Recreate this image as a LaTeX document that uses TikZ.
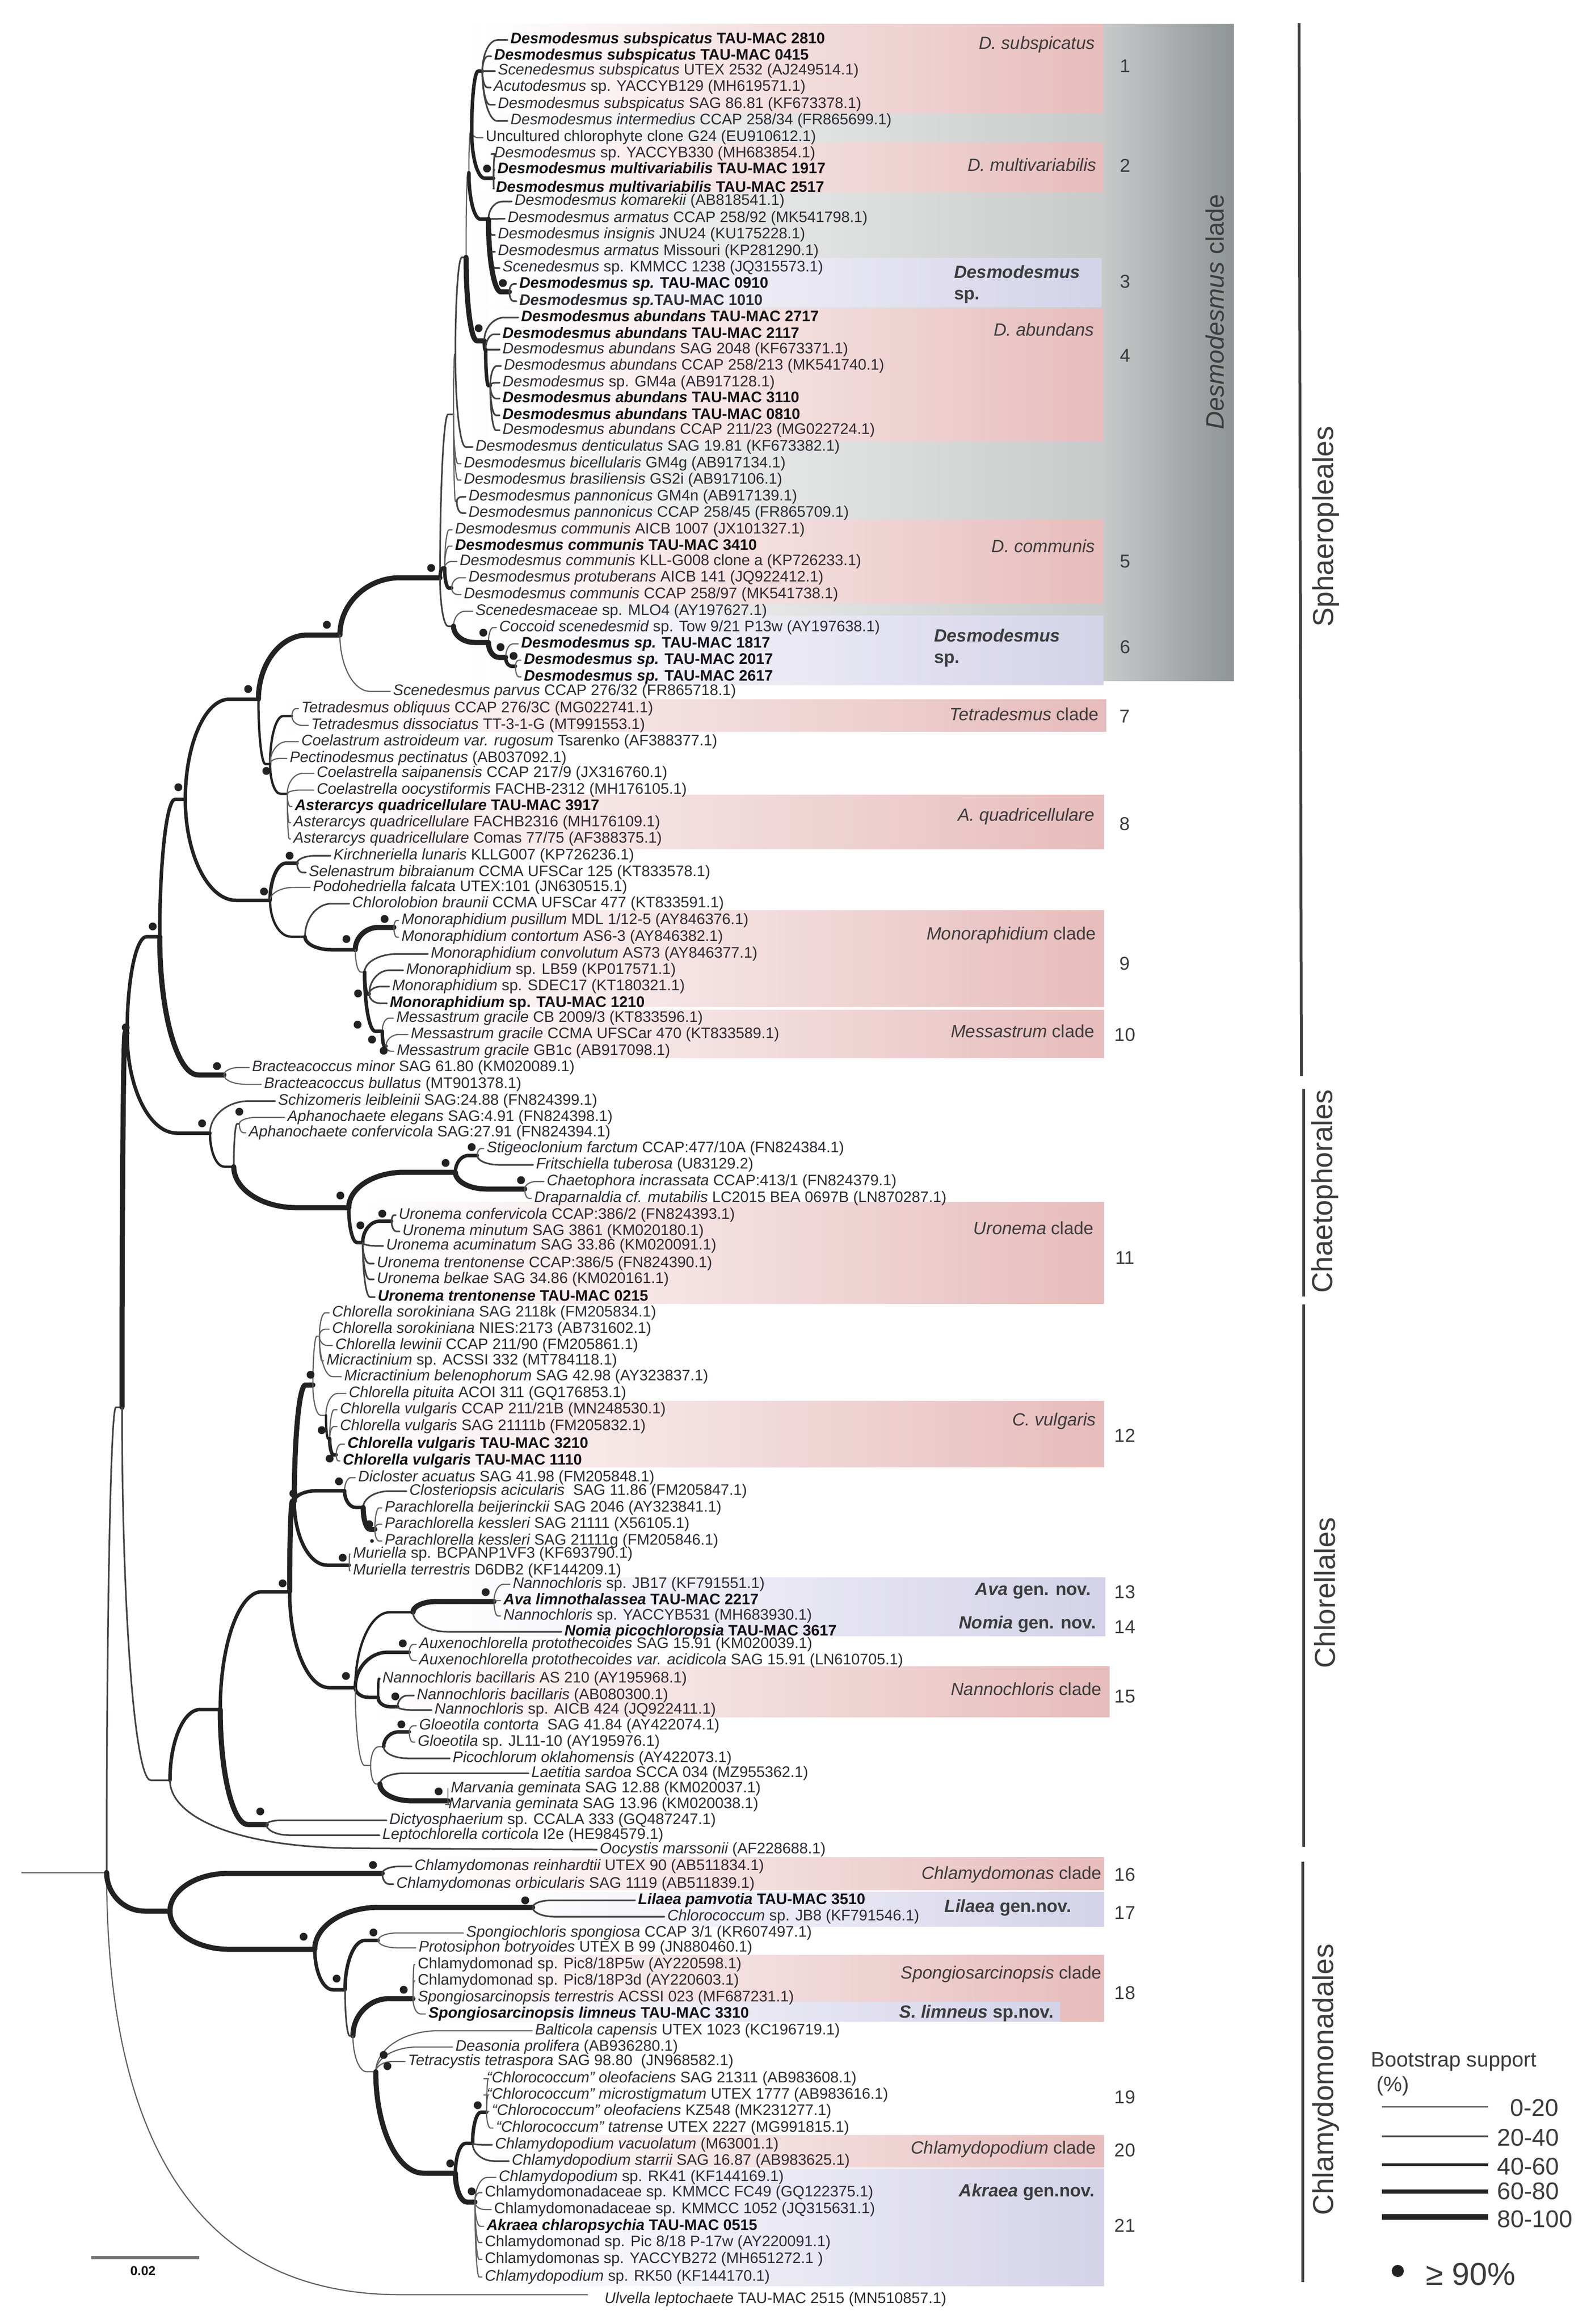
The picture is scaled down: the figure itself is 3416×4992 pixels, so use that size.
\documentclass[tikz,border=0pt]{standalone}
\usepackage{fontspec}
\setmainfont{Liberation Sans}
\usetikzlibrary{calc}
\definecolor{redb}{HTML}{E7BCBC}
\definecolor{purb}{HTML}{D4D2E8}
\definecolor{greyb}{HTML}{C8CACA}
\definecolor{greyc}{HTML}{8F9495}
\definecolor{ink}{HTML}{2E2B33}
\definecolor{inkc}{HTML}{3C3C3C}
\definecolor{inkb}{HTML}{141216}
\definecolor{tree}{HTML}{222222}
\tikzset{
 lbl/.style={anchor=west,inner xsep=3pt,inner ysep=0pt,xshift=-3pt,text height=11.5pt,text depth=3.5pt,text=ink,font=\fontsize{16.4}{18}\selectfont},
 cladelbl/.style={anchor=east,inner sep=0pt,text=inkc,font=\fontsize{19}{22}\selectfont},
 numlbl/.style={anchor=center,inner sep=0pt,text=inkc,font=\fontsize{20}{22}\selectfont},
 orderlbl/.style={anchor=center,rotate=90,inner sep=0pt,text=inkc,font=\fontsize{31}{34}\selectfont},
 legendlbl/.style={anchor=west,inner sep=0pt,text=inkc,font=\fontsize{26}{28}\selectfont},
 dotn/.style={circle,fill=tree,draw=none,inner sep=0pt,minimum size=8.5pt},
 w1/.style={line width=1.25pt,draw=black!62,line cap=round},
 w2/.style={line width=1.75pt,draw=tree!85,line cap=round},
 w3/.style={line width=2.5pt,draw=tree,line cap=round},
 w4/.style={line width=3.75pt,draw=tree,line cap=round},
 w5/.style={line width=5.5pt,draw=tree,line cap=round},
 cv/.style={to path={let \p1=(\tikztostart),\p2=(\tikztotarget) in
   \pgfextra{\pgfmathsetlengthmacro\nnl{min(0.6*abs(\x2-\x1),1.3*abs(\y2-\y1)+10pt)}\global\let\nnx\nnl}
   .. controls (\x1,{\y1+0.55*(\y2-\y1)}) and ({\x1+0.45*\nnx},\y2) .. ({\x1+\nnx},\y2) -- (\tikztotarget)}},
}
\newcommand{\rband}[4]{\shade[left color=white,right color=redb] (#1,#2) rectangle (#3,#4);}
\newcommand{\pband}[4]{\shade[left color=white,right color=purb] (#1,#2) rectangle (#3,#4);}
\newcommand{\co}[3]{\coordinate (#1) at (#2,#3);}
\newcommand{\leaft}[4]{\node[lbl] (#1) at (#2,#3) {#4};}
\newcommand{\leafr}[5]{\node[lbl] (#1) at (#2,#3) {{\itshape #4} #5};}
\newcommand{\leafb}[5]{\node[lbl,text=inkb] (#1) at (#2,#3) {{\bfseries\itshape #4} {\bfseries #5}};}
\newcommand{\ed}[3]{\draw[#1] (#2) to[cv] (#3);}
\newcommand{\ls}[3]{\foreach \cc in {#3} {\draw[#1] (#2) to[cv] (\cc.west);}}
\newcommand{\cla}[4]{\node[cladelbl] (#1) at (#2,#3) {#4};}
\newcommand{\numb}[3]{\node[numlbl] (n#1) at (#2,#3) {#1};}
\begin{document}
\begin{tikzpicture}[x=0.5pt,y=-0.5pt]
\useasboundingbox (0,0) rectangle (3416,4992);
% ---- bands
\shade[left color=white,right color=greyb] (1000,52) rectangle (2372,1462);
\shade[left color=greyb,right color=greyc] (2370,52) rectangle (2650,1462);
\rband{1030}{52}{2370}{244}
\rband{1030}{307}{2370}{413}
\pband{1050}{555}{2366}{660}
\rband{1050}{664}{2370}{947}
\rband{960}{1116}{2370}{1296}
\pband{1040}{1322}{2370}{1471}
\rband{600}{1502}{2376}{1571}
\rband{600}{1707}{2371}{1823}
\rband{830}{1955}{2371}{2162}
\rband{830}{2169}{2371}{2272}
\rband{780}{2582}{2371}{2800}
\rband{710}{3009}{2371}{3151}
\pband{930}{3388}{2374}{3514}
\rband{800}{3579}{2383}{3688}
\rband{880}{3989}{2371}{4059}
\pband{1080}{4064}{2371}{4138}
\rband{880}{4199}{2371}{4342}
\pband{920}{4300}{2277}{4342}
\rband{1040}{4586}{2371}{4655}
\pband{1030}{4658}{2371}{4910}
% ---- leaves
\leafb{a1}{1096}{86}{Desmodesmus subspicatus}{TAU-MAC 2810}
\leafb{a2}{1061}{121}{Desmodesmus subspicatus}{TAU-MAC 0415}
\leafr{a3}{1069}{153}{Scenedesmus subspicatus}{UTEX 2532 (AJ249514.1)}
\leafr{a4}{1060}{188}{Acutodesmus}{sp. YACCYB129 (MH619571.1)}
\leafr{a5}{1069}{225}{Desmodesmus subspicatus}{SAG 86.81 (KF673378.1)}
\leafr{a6}{1096}{260}{Desmodesmus intermedius}{CCAP 258/34 (FR865699.1)}
\leaft{a7}{1043}{296}{Uncultured chlorophyte clone G24 (EU910612.1)}
\leafr{a8}{1061}{331}{Desmodesmus}{sp. YACCYB330 (MH683854.1)}
\leafb{a9}{1068}{365}{Desmodesmus multivariabilis}{TAU-MAC 1917}
\leafb{a10}{1065}{405}{Desmodesmus multivariabilis}{TAU-MAC 2517}
\leafr{a11}{1105}{433}{Desmodesmus komarekii}{(AB818541.1)}
\leafr{a12}{1090}{470}{Desmodesmus armatus}{CCAP 258/92 (MK541798.1)}
\leafr{a13}{1069}{505}{Desmodesmus insignis}{JNU24 (KU175228.1)}
\leafr{a14}{1069}{541}{Desmodesmus armatus}{Missouri (KP281290.1)}
\leafr{a15}{1079}{576}{Scenedesmus}{sp. KMMCC 1238 (JQ315573.1)}
\leafb{a16}{1115}{610}{Desmodesmus sp.}{TAU-MAC 0910}
\leaft{a17}{1115}{647}{{\bfseries\itshape Desmodesmus sp.}{\bfseries TAU-MAC 1010}}
\leafb{a18}{1119}{682}{Desmodesmus abundans}{TAU-MAC 2717}
\leafb{a19}{1079}{718}{Desmodesmus abundans}{TAU-MAC 2117}
\leafr{a20}{1079}{751}{Desmodesmus abundans}{SAG 2048 (KF673371.1)}
\leafr{a21}{1082}{786}{Desmodesmus abundans}{CCAP 258/213 (MK541740.1)}
\leafr{a22}{1079}{822}{Desmodesmus}{sp. GM4a (AB917128.1)}
\leafb{a23}{1079}{856}{Desmodesmus abundans}{TAU-MAC 3110}
\leafb{a24}{1079}{892}{Desmodesmus abundans}{TAU-MAC 0810}
\leafr{a25}{1079}{924}{Desmodesmus abundans}{CCAP 211/23 (MG022724.1)}
\leafr{a26}{1021}{960}{Desmodesmus denticulatus}{SAG 19.81 (KF673382.1)}
\leafr{a27}{996}{996}{Desmodesmus bicellularis}{GM4g (AB917134.1)}
\leafr{a28}{996}{1031}{Desmodesmus brasiliensis}{GS2i (AB917106.1)}
\leafr{a29}{1006}{1067}{Desmodesmus pannonicus}{GM4n (AB917139.1)}
\leafr{a30}{1006}{1102}{Desmodesmus pannonicus}{CCAP 258/45 (FR865709.1)}
\leafr{a31}{977}{1138}{Desmodesmus communis}{AICB 1007 (JX101327.1)}
\leafb{a32}{977}{1173}{Desmodesmus communis}{TAU-MAC 3410}
\leafr{a33}{987}{1206}{Desmodesmus communis}{KLL-G008 clone a (KP726233.1)}
\leafr{a34}{1006}{1241}{Desmodesmus protuberans}{AICB 141 (JQ922412.1)}
\leafr{a35}{996}{1277}{Desmodesmus communis}{CCAP 258/97 (MK541738.1)}
\leafr{a36}{1021}{1313}{Scenedesmaceae}{sp. MLO4 (AY197627.1)}
\leafr{a37}{1072}{1348}{Coccoid scenedesmid}{sp. Tow 9/21 P13w (AY197638.1)}
\leafb{a38}{1119}{1383}{Desmodesmus sp.}{TAU-MAC 1817}
\leafb{a39}{1125}{1418}{Desmodesmus sp.}{TAU-MAC 2017}
\leafb{a40}{1125}{1454}{Desmodesmus sp.}{TAU-MAC 2617}
\leafr{a41}{844}{1485}{Scenedesmus parvus}{CCAP 276/32 (FR865718.1)}
\leafr{b1}{647}{1522}{Tetradesmus obliquus}{CCAP 276/3C (MG022741.1)}
\leafr{b2}{668}{1558}{Tetradesmus dissociatus}{TT-3-1-G (MT991553.1)}
\leafr{b3}{647}{1593}{Coelastrum astroideum var. rugosum}{Tsarenko (AF388377.1)}
\leafr{b4}{622}{1629}{Pectinodesmus pectinatus}{(AB037092.1)}
\leafr{b5}{680}{1661}{Coelastrella saipanensis}{CCAP 217/9 (JX316760.1)}
\leafr{b6}{680}{1697}{Coelastrella oocystiformis}{FACHB-2312 (MH176105.1)}
\leafb{b7}{633}{1732}{Asterarcys quadricellulare}{TAU-MAC 3917}
\leafr{b8}{630}{1767}{Asterarcys quadricellulare}{FACHB2316 (MH176109.1)}
\leafr{b9}{630}{1802}{Asterarcys quadricellulare}{Comas 77/75 (AF388375.1)}
\leafr{b10}{716}{1838}{Kirchneriella lunaris}{KLLG007 (KP726236.1)}
\leafr{b11}{663}{1874}{Selenastrum bibraianum}{CCMA UFSCar 125 (KT833578.1)}
\leafr{b12}{672}{1906}{Podohedriella falcata}{UTEX:101 (JN630515.1)}
\leafr{b13}{756}{1941}{Chlorolobion braunii}{CCMA UFSCar 477 (KT833591.1)}
\leafr{b14}{862}{1977}{Monoraphidium pusillum}{MDL 1/12-5 (AY846376.1)}
\leafr{b15}{862}{2013}{Monoraphidium contortum}{AS6-3 (AY846382.1)}
\leafr{b16}{925}{2049}{Monoraphidium convolutum}{AS73 (AY846377.1)}
\leafr{b17}{872}{2084}{Monoraphidium}{sp. LB59 (KP017571.1)}
\leafr{b18}{842}{2119}{Monoraphidium}{sp. SDEC17 (KT180321.1)}
\leafb{b19}{837}{2155}{Monoraphidium}{sp. TAU-MAC 1210}
\leafr{b20}{851}{2187}{Messastrum gracile}{CB 2009/3 (KT833596.1)}
\leafr{b21}{882}{2222}{Messastrum gracile}{CCMA UFSCar 470 (KT833589.1)}
\leafr{b22}{852}{2258}{Messastrum gracile}{GB1c (AB917098.1)}
\leafr{b23}{541}{2293}{Bracteacoccus minor}{SAG 61.80 (KM020089.1)}
\leafr{b24}{567}{2329}{Bracteacoccus bullatus}{(MT901378.1)}
\leafr{c1}{597}{2365}{Schizomeris leibleinii}{SAG:24.88 (FN824399.1)}
\leafr{c2}{617}{2400}{Aphanochaete elegans}{SAG:4.91 (FN824398.1)}
\leafr{c3}{534}{2433}{Aphanochaete confervicola}{SAG:27.91 (FN824394.1)}
\leafr{c4}{1045}{2467}{Stigeoclonium farctum}{CCAP:477/10A (FN824384.1)}
\leafr{c5}{1151}{2502}{Fritschiella tuberosa}{(U83129.2)}
\leafr{c6}{1174}{2538}{Chaetophora incrassata}{CCAP:413/1 (FN824379.1)}
\leafr{c7}{1147}{2574}{Draparnaldia cf. mutabilis}{LC2015 BEA 0697B (LN870287.1)}
\leafr{c8}{856}{2610}{Uronema confervicola}{CCAP:386/2 (FN824393.1)}
\leafr{c9}{864}{2645}{Uronema minutum}{SAG 3861 (KM020180.1)}
\leafr{c10}{829}{2676}{Uronema acuminatum}{SAG 33.86 (KM020091.1)}
\leafr{c11}{809}{2714}{Uronema trentonense}{CCAP:386/5 (FN824390.1)}
\leafr{c12}{809}{2748}{Uronema belkae}{SAG 34.86 (KM020161.1)}
\leafb{c13}{811}{2786}{Uronema trentonense}{TAU-MAC 0215}
\leafr{e1}{713}{2820}{Chlorella sorokiniana}{SAG 2118k (FM205834.1)}
\leafr{e2}{713}{2855}{Chlorella sorokiniana}{NIES:2173 (AB731602.1)}
\leafr{e3}{720}{2890}{Chlorella lewinii}{CCAP 211/90 (FM205861.1)}
\leafr{e4}{701}{2923}{Micractinium}{sp. ACSSI 332 (MT784118.1)}
\leafr{e5}{739}{2957}{Micractinium belenophorum}{SAG 42.98 (AY323837.1)}
\leafr{e6}{749}{2993}{Chlorella pituita}{ACOI 311 (GQ176853.1)}
\leafr{e7}{730}{3028}{Chlorella vulgaris}{CCAP 211/21B (MN248530.1)}
\leafr{e8}{730}{3064}{Chlorella vulgaris}{SAG 21111b (FM205832.1)}
\leafb{e9}{746}{3102}{Chlorella vulgaris}{TAU-MAC 3210}
\leafb{e10}{736}{3138}{Chlorella vulgaris}{TAU-MAC 1110}
\leafr{e11}{769}{3174}{Dicloster acuatus}{SAG 41.98 (FM205848.1)}
\leafr{e12}{879}{3203}{Closteriopsis acicularis}{\ SAG 11.86 (FM205847.1)}
\leafr{e13}{826}{3239}{Parachlorella beijerinckii}{SAG 2046 (AY323841.1)}
\leafr{e14}{826}{3274}{Parachlorella kessleri}{SAG 21111 (X56105.1)}
\leafr{e15}{826}{3310}{Parachlorella kessleri}{SAG 21111g (FM205846.1)}
\leafr{e16}{758}{3338}{Muriella}{sp. BCPANP1VF3 (KF693790.1)}
\leafr{e17}{758}{3374}{Muriella terrestris}{D6DB2 (KF144209.1)}
\leafr{f1}{1101}{3403}{Nannochloris}{sp. JB17 (KF791551.1)}
\leafb{f2}{1081}{3438}{Ava limnothalassea}{TAU-MAC 2217}
\leafr{f3}{1081}{3471}{Nannochloris}{sp. YACCYB531 (MH683930.1)}
\leafb{f4}{1212}{3505}{Nomia picochloropsia}{TAU-MAC 3617}
\leafr{f5}{900}{3532}{Auxenochlorella protothecoides}{SAG 15.91 (KM020039.1)}
\leafr{f6}{900}{3567}{Auxenochlorella protothecoides var. acidicola}{SAG 15.91 (LN610705.1)}
\leafr{f7}{821}{3606}{Nannochloris bacillaris}{AS 210 (AY195968.1)}
\leafr{f8}{895}{3642}{Nannochloris bacillaris}{(AB080300.1)}
\leafr{f9}{933}{3673}{Nannochloris}{sp. AICB 424 (JQ922411.1)}
\leafr{f10}{900}{3707}{Gloeotila contorta}{\ SAG 41.84 (AY422074.1)}
\leafr{f11}{897}{3742}{Gloeotila}{sp. JL11-10 (AY195976.1)}
\leafr{f12}{972}{3777}{Picochlorum oklahomensis}{(AY422073.1)}
\leafr{f13}{1141}{3809}{Laetitia sardoa}{SCCA 034 (MZ955362.1)}
\leafr{f14}{968}{3842}{Marvania geminata}{SAG 12.88 (KM020037.1)}
\leafr{f15}{963}{3876}{Marvania geminata}{SAG 13.96 (KM020038.1)}
\leafr{f16}{836}{3910}{Dictyosphaerium}{sp. CCALA 333 (GQ487247.1)}
\leafr{f17}{821}{3942}{Leptochlorella corticola}{I2e (HE984579.1)}
\leafr{f18}{1288}{3973}{Oocystis marssonii}{(AF228688.1)}
\leafr{g1}{890}{4009}{Chlamydomonas reinhardtii}{UTEX 90 (AB511834.1)}
\leafr{g2}{851}{4047}{Chlamydomonas orbicularis}{SAG 1119 (AB511839.1)}
\leafb{g3}{1370}{4082}{Lilaea pamvotia}{TAU-MAC 3510}
\leafr{g4}{1433}{4117}{Chlorococcum}{sp. JB8 (KF791546.1)}
\leafr{g5}{1001}{4152}{Spongiochloris spongiosa}{CCAP 3/1 (KR607497.1)}
\leafr{g6}{899}{4184}{Protosiphon botryoides}{UTEX B 99 (JN880460.1)}
\leaft{g7}{897}{4220}{Chlamydomonad sp. Pic8/18P5w (AY220598.1)}
\leaft{g8}{897}{4255}{Chlamydomonad sp. Pic8/18P3d (AY220603.1)}
\leafr{g9}{897}{4291}{Spongiosarcinopsis terrestris}{ACSSI 023 (MF687231.1)}
\leafb{g10}{920}{4326}{Spongiosarcinopsis limneus}{TAU-MAC 3310}
\leafr{g11}{1149}{4362}{Balticola capensis}{UTEX 1023 (KC196719.1)}
\leafr{g12}{978}{4397}{Deasonia prolifera}{(AB936280.1)}
\leafr{g13}{876}{4428}{Tetracystis tetraspora}{SAG 98.80 \ (JN968582.1)}
\leafr{g14}{1045}{4465}{“Chlorococcum” oleofaciens}{SAG 21311 (AB983608.1)}
\leafr{g15}{1045}{4500}{“Chlorococcum” microstigmatum}{UTEX 1777 (AB983616.1)}
\leafr{g16}{1056}{4535}{“Chlorococcum” oleofaciens}{KZ548 (MK231277.1)}
\leafr{g17}{1065}{4571}{“Chlorococcum” tatrense}{UTEX 2227 (MG991815.1)}
\leafr{g18}{1063}{4607}{Chlamydopodium vacuolatum}{(M63001.1)}
\leafr{g19}{1099}{4642}{Chlamydopodium starrii}{SAG 16.87 (AB983625.1)}
\leafr{g20}{1071}{4677}{Chlamydopodium}{sp. RK41 (KF144169.1)}
\leaft{g21}{1041}{4710}{Chlamydomonadaceae sp. KMMCC FC49 (GQ122375.1)}
\leaft{g22}{1061}{4746}{Chlamydomonadaceae sp. KMMCC 1052 (JQ315631.1)}
\leafb{g23}{1045}{4782}{Akraea chlaropsychia}{TAU-MAC 0515}
\leaft{g24}{1041}{4817}{Chlamydomonad sp. Pic 8/18 P-17w (AY220091.1)}
\leaft{g25}{1041}{4853}{Chlamydomonas sp. YACCYB272 (MH651272.1 )}
\leafr{g26}{1041}{4891}{Chlamydopodium}{sp. RK50 (KF144170.1)}
\leafr{g27}{1298}{4939}{Ulvella leptochaete}{TAU-MAC 2515 (MN510857.1)}
% ---- internal nodes
\co{Rs}{46}{4022}\co{R}{229}{4022}\co{C1}{262}{3023}\co{C2}{273}{2219}\co{C3}{365}{3824}
\co{D}{473}{3672}\co{E}{622}{3419}\co{F}{632}{3225}\co{G}{672}{2975}\co{Ga}{686}{2870}
\co{Gb}{700}{3040}\co{Gc}{708}{3090}\co{Gd}{722}{3125}\co{H}{740}{3202}\co{Hb}{780}{3238}
\co{Hc}{805}{3285}\co{Mu}{750}{3362}\co{N}{763}{3625}\co{Na}{887}{3463}\co{Nb}{1061}{3440}
\co{Nc}{879}{3549}\co{Nd}{812}{3646}\co{Ne}{854}{3666}\co{Nf}{796}{3792}\co{Ng}{824}{3752}
\co{Nh}{879}{3720}\co{Ni}{816}{3832}\co{Nj}{962}{3868}\co{Dy}{572}{3919}
\co{I}{343}{2012}\co{J}{451}{2434}\co{K}{398}{1717}\co{Br}{481}{2309}\co{L}{555}{1502}
\co{M}{580}{1934}\co{La}{730}{1364}\co{Lb}{580}{1641}\co{Des}{945}{1241}
\co{P}{974}{890}\co{Q}{955}{1220}\co{Qb}{970}{1263}\co{S}{974}{1345}\co{Sb}{1049}{1380}
\co{Sc}{1086}{1412}\co{Sd}{1107}{1431}\co{T}{978}{761}\co{U}{981}{1077}\co{V}{1001}{553}
\co{W}{1007}{371}\co{Wb}{1013}{282}\co{Wa}{1036}{153}\co{Y}{1060}{383}\co{Z}{1049}{471}
\co{Zb}{1094}{627}\co{X}{1040}{732}\co{Xb}{1043}{751}\co{Xc}{1053}{828}
\co{Te}{627}{1538}\co{Lc}{617}{1705}\co{Ma}{638}{1854}\co{Mb}{655}{2012}\co{Mc}{763}{2040}
\co{Md}{846}{1992}\co{Me}{783}{2088}\co{Mf}{793}{2135}\co{Mg}{821}{2215}\co{Mh}{829}{2247}
\co{Ja}{502}{2506}\co{Jb}{514}{2414}\co{Jc}{749}{2594}\co{Jd}{978}{2518}\co{Je}{779}{2669}
\co{Jf}{1025}{2482}\co{Jg}{1127}{2554}\co{Jh}{841}{2623}
\co{AA}{365}{4105}\co{BB}{821}{4024}\co{CC}{676}{4187}\co{DD}{1144}{4097}\co{EE}{741}{4274}
\co{FF}{812}{4168}\co{GG}{758}{4373}\co{HH}{887}{4293}\co{II}{807}{4450}\co{KK}{978}{4668}
\co{LL}{1015}{4604}\co{MM}{1045}{4537}\co{NN}{1020}{4730}\co{ulvmid}{860}{4929}\co{ulvtip}{1262}{4929}
% ---- connectors
\draw[line width=1.5pt,draw=black!55] (Rs) -- (R);
\draw[w1] (R) .. controls (229,4650) and (460,4929) .. (ulvmid) -- (ulvtip);
\ed{w2}{R}{C1}\ed{w5}{R}{AA}
\ed{w5}{C1}{C2}\ed{w2}{C1}{C3}
\ed{w4}{C3}{D}\draw[w2] (C3) .. controls (365,3900) and (500,3968) .. (760,3970) -- (f18.west);
\ed{w4}{D}{E}\ed{w5}{D}{Dy}\ls{w2}{Dy}{f16,f17}
\ed{w5}{E}{F}\ed{w4}{E}{N}
\ed{w5}{F}{G}\ed{w4}{F}{H}\ed{w4}{F}{Mu}
\ed{w1}{G}{Ga}\ls{w1}{Ga}{e1,e2,e3,e4,e5}
\ed{w1}{G}{Gb}\ls{w1}{Gb}{e6}\ed{w3}{Gb}{Gc}\ls{w1}{Gc}{e7,e8}\ed{w4}{Gc}{Gd}\ls{w1}{Gd}{e9,e10}
\ls{w1}{H}{e11}\ed{w4}{H}{Hb}\ls{w2}{Hb}{e12}\ed{w5}{Hb}{Hc}\ls{w1}{Hc}{e13,e14,e15}
\ls{w1}{Mu}{e16,e17}
\ed{w3}{N}{Na}\ed{w4}{N}{Nc}\ed{w4}{N}{Nd}\ed{w1}{N}{Nf}
\ed{w5}{Na}{Nb}\ls{w1}{Nb}{f1,f2,f3}\ls{w2}{Na}{f4}
\ls{w1}{Nc}{f5,f6}
\ls{w3}{Nd}{f7}\ed{w4}{Nd}{Ne}\ls{w2}{Ne}{f8,f9}
\ed{w1}{Nf}{Ng}\ed{w4}{Ng}{Nh}\ls{w1}{Nh}{f10,f11}\ls{w2}{Ng}{f12}
\ed{w1}{Nf}{Ni}\ls{w2}{Ni}{f13}\ed{w5}{Ni}{Nj}\ls{w1}{Nj}{f14,f15}
\ed{w4}{C2}{I}\ed{w4}{C2}{J}
\ed{w4}{I}{K}\ed{w5}{I}{Br}\ls{w1}{Br}{b23,b24}
\ed{w4}{K}{L}\ed{w4}{K}{M}
\ed{w5}{L}{La}\ed{w3}{L}{Lb}
\ed{w5}{La}{Des}\ls{w1}{La}{a41}
\ed{w2}{Des}{P}\ed{w4}{Des}{Q}\ed{w2}{Des}{S}
\ls{w1}{Q}{a31,a32,a33}\ed{w4}{Q}{Qb}\ls{w1}{Qb}{a34,a35}
\ls{w1}{S}{a36}\ed{w5}{S}{Sb}\ls{w1}{Sb}{a37}\ed{w5}{Sb}{Sc}\ls{w1}{Sc}{a38}\ed{w4}{Sc}{Sd}\ls{w1}{Sd}{a39,a40}
\ed{w1}{P}{T}\ls{w1}{P}{a27,a28}\ed{w1}{P}{U}\ls{w2}{U}{a29,a30}
\ed{w2}{T}{V}\ls{w2}{T}{a26}
\ed{w1}{V}{W}\ed{w5}{V}{X}
\ed{w1}{W}{Wb}\ed{w4}{W}{Z}
\ed{w4}{Wb}{Wa}\ls{w1}{Wb}{a7}\ed{w4}{Wb}{Y}
\ls{w2}{Wa}{a1,a2,a3,a4,a5,a6}
\ls{w2}{Y}{a8,a9,a10}
\ls{w2}{Z}{a11,a12,a13,a14,a15}\ed{w5}{Z}{Zb}\ls{w2}{Zb}{a16,a17}
\ls{w2}{X}{a18}\ed{w4}{X}{Xb}\ls{w2}{Xb}{a19,a20}\ed{w4}{Xb}{Xc}\ls{w2}{Xc}{a21,a22,a23,a24,a25}
\ed{w3}{Lb}{Te}\ls{w1}{Te}{b1,b2}\ls{w1}{Lb}{b3,b4}\ed{w3}{Lb}{Lc}\ls{w1}{Lc}{b5,b6,b7,b8,b9}
\ed{w4}{M}{Ma}\ls{w2}{Ma}{b10,b11}\ls{w1}{M}{b12}\ed{w3}{M}{Mb}
\ls{w2}{Mb}{b13}\ed{w4}{Mb}{Mc}
\ed{w5}{Mc}{Md}\ls{w1}{Md}{b14,b15}\ed{w1}{Mc}{Me}
\ls{w2}{Me}{b16}\ed{w4}{Me}{Mf}\ed{w4}{Me}{Mg}
\ls{w2}{Mf}{b17,b18,b19}
\ls{w1}{Mg}{b20}\ed{w4}{Mg}{Mh}\ls{w1}{Mh}{b21,b22}
\ls{w2}{J}{c1}\ed{w3}{J}{Ja}
\ed{w2}{Ja}{Jb}\ls{w1}{Jb}{c2,c3}\ed{w5}{Ja}{Jc}
\ed{w5}{Jc}{Jd}\ed{w4}{Jc}{Je}
\ed{w4}{Jd}{Jf}\ls{w1}{Jf}{c4}\ls{w2}{Jf}{c5}\ed{w5}{Jd}{Jg}\ls{w1}{Jg}{c6,c7}
\ed{w4}{Je}{Jh}\ls{w2}{Jh}{c8,c9}\ls{w2}{Je}{c10,c11,c12,c13}
\ed{w5}{AA}{BB}\ls{w2}{BB}{g1,g2}
\ed{w5}{AA}{CC}
\ed{w5}{CC}{DD}\ls{w2}{DD}{g3,g4}
\ed{w4}{CC}{EE}
\ed{w4}{EE}{FF}\ls{w1}{FF}{g5,g6}
\ed{w2}{EE}{GG}\ed{w5}{GG}{HH}\ls{w1}{HH}{g7,g8,g9,g10}
\ed{w1}{GG}{II}\ls{w1}{II}{g11,g12,g13}\ed{w5}{II}{KK}
\ed{w4}{KK}{LL}\ed{w5}{KK}{NN}
\ed{w4}{LL}{MM}\ls{w1}{MM}{g14,g15,g16,g17}\ls{w2}{LL}{g18,g19}
\ls{w1}{NN}{g20,g21,g22,g23,g24,g25,g26}
% ---- support dots
\foreach \dx/\dy [count=\k] in {1046/362,1080/608,1028/705,926/1220,702/1342,533/1480,1038/1359,1075/1390,1103/1409,
 572/1656,383/1691,622/1838,567/1915,826/1974,744/2017,328/1990,769/2134,768/2201,799/2233,824/2257,270/2207,466/2290,
 434/2413,514/2388,1013/2464,957/2498,1119/2535,731/2568,821/2607,774/2632,
 667/2953,691/3072,708/3133,728/3182,630/3208,793/3274,736/3346,607/3401,1043/3420,865/3530,743/3600,849/3644,862/3704,
 942/3848,559/3891,801/4006,1128/4082,652/4160,802/4151,723/4250,867/4274,824/4414,832/4438,1026/4522,967/4647,1013/4707}
 {\node[dotn] (dot\k) at (\dx,\dy) {};}
\node[circle,fill=tree,inner sep=0pt,minimum size=4pt] (dotsmall) at (799,3310) {};
% ---- clade labels
\cla{l1}{2352}{96}{\itshape D. subspicatus}
\cla{l2}{2355}{354}{\itshape D. multivariabilis}
\node[cladelbl,anchor=west,align=left,font=\fontsize{19}{23}\selectfont\bfseries] (l3) at (2049,611) {\textit{Desmodesmus}\\sp.};
\cla{l4}{2350}{708}{\itshape D. abundans}
\cla{l5}{2352}{1173}{\itshape D. communis}
\node[cladelbl,anchor=west,align=left,font=\fontsize{19}{23}\selectfont\bfseries] (l6) at (2006,1392) {\textit{Desmodesmus}\\sp.};
\cla{l7}{2360}{1534}{{\itshape Tetradesmus} clade}
\cla{l8}{2351}{1754}{\itshape A. quadricellulare}
\cla{l9}{2354}{2009}{{\itshape Monoraphidium} clade}
\cla{l10}{2351}{2215}{{\itshape Messastrum} clade}
\cla{l11}{2349}{2638}{{\itshape Uronema} clade}
\cla{l12}{2354}{3053}{\itshape C. vulgaris}
\node[cladelbl] (l13) at (2343,3417) {{\bfseries\itshape Ava} {\bfseries gen. nov.}};
\node[cladelbl] (l14) at (2354,3489) {{\bfseries\itshape Nomia} {\bfseries gen. nov.}};
\cla{l15}{2366}{3628}{{\itshape Nannochloris} clade}
\cla{l16}{2366}{4027}{{\itshape Chlamydomonas} clade}
\node[cladelbl] (l17) at (2301,4098) {{\bfseries\itshape Lilaea} {\bfseries gen.nov.}};
\cla{l18}{2366}{4241}{{\itshape Spongiosarcinopsis} clade}
\node[cladelbl] (l19) at (2263,4325) {{\bfseries\itshape S. limneus} {\bfseries sp.nov.}};
\cla{l20}{2354}{4617}{{\itshape Chlamydopodium} clade}
\node[cladelbl] (l21) at (2351,4709) {{\bfseries\itshape Akraea} {\bfseries gen.nov.}};
% ---- numbers
\numb{1}{2417}{142}\numb{2}{2417}{356}\numb{3}{2417}{605}\numb{4}{2417}{764}\numb{5}{2417}{1206}\numb{6}{2417}{1390}
\numb{7}{2416}{1539}\numb{8}{2416}{1770}\numb{9}{2416}{2070}\numb{10}{2416}{2223}\numb{11}{2416}{2702}\numb{12}{2416}{3083}
\numb{13}{2416}{3420}\numb{14}{2416}{3495}\numb{15}{2416}{3644}\numb{16}{2416}{4027}\numb{17}{2416}{4109}\numb{18}{2416}{4281}
\numb{19}{2416}{4505}\numb{20}{2416}{4619}\numb{21}{2416}{4780}
% ---- order bars and labels
\node[anchor=center,rotate=90,inner sep=0pt,text=inkc,font=\fontsize{27}{30}\selectfont] (dclade) at (2609,670) {{\itshape Desmodesmus} clade};
\co{oa1}{2790}{50}\co{oa2}{2795}{2311}\co{ob1}{2800}{2339}\co{ob2}{2800}{2785}\co{oc1}{2800}{2802}\co{oc2}{2800}{3967}\co{od1}{2798}{3999}\co{od2}{2798}{4902}
\foreach \oa/\ob in {oa1/oa2,ob1/ob2,oc1/oc2,od1/od2} {\draw[line width=3pt,draw=black!75] (\oa) -- (\ob);}
\node[orderlbl] (o1) at (2847,1131) {Sphaeropleales};
\node[orderlbl] (o2) at (2845,2559) {Chaetophorales};
\node[orderlbl] (o3) at (2845,3421) {Chlorellales};
\node[orderlbl] (o4) at (2847,4467) {Chlamydomonadales};
% ---- scale bar
\co{sa}{196}{4849}\co{sb}{428}{4849}
\draw[line width=3.5pt,draw=black!55] (sa) -- (sb);
\node[anchor=center,inner sep=0pt,text=inkb,font=\fontsize{14}{16}\selectfont\bfseries] (scale) at (307,4878) {0.02};
% ---- legend
\node[anchor=west,inner sep=0pt,text=inkc,font=\fontsize{22.5}{24}\selectfont] (lg0) at (2944,4429) {Bootstrap support};
\node[anchor=west,inner sep=0pt,text=inkc,font=\fontsize{22.5}{24}\selectfont] (lg00) at (2956,4481) {(\%)};
\co{la1}{2968}{4525}\co{lb1}{3196}{4525}\co{la2}{2968}{4589}\co{lb2}{3196}{4589}\co{la3}{2968}{4650}\co{lb3}{3196}{4650}
\co{la4}{2968}{4707}\co{lb4}{3196}{4707}\co{la5}{2968}{4762}\co{lb5}{3196}{4762}
\draw[line width=1.5pt,draw=black!60] (la1) -- (lb1);
\draw[line width=2pt,draw=black!75] (la2) -- (lb2);
\draw[line width=3pt,draw=tree] (la3) -- (lb3);
\draw[line width=4.5pt,draw=tree] (la4) -- (lb4);
\draw[line width=6pt,draw=tree] (la5) -- (lb5);
\node[legendlbl] (lt1) at (3243,4528) {0-20};
\node[legendlbl] (lt2) at (3215,4592) {20-40};
\node[legendlbl] (lt3) at (3215,4654) {40-60};
\node[legendlbl] (lt4) at (3215,4707) {60-80};
\node[legendlbl] (lt5) at (3215,4767) {80-100};
\node[circle,fill=tree,inner sep=0pt,minimum size=13pt] (lgdot) at (3002,4878) {};
\node[anchor=west,inner sep=0pt,text=inkc,font=\fontsize{34}{36}\selectfont] (lgge) at (3062,4885) {≥ 90\%};
\end{tikzpicture}
\end{document}
